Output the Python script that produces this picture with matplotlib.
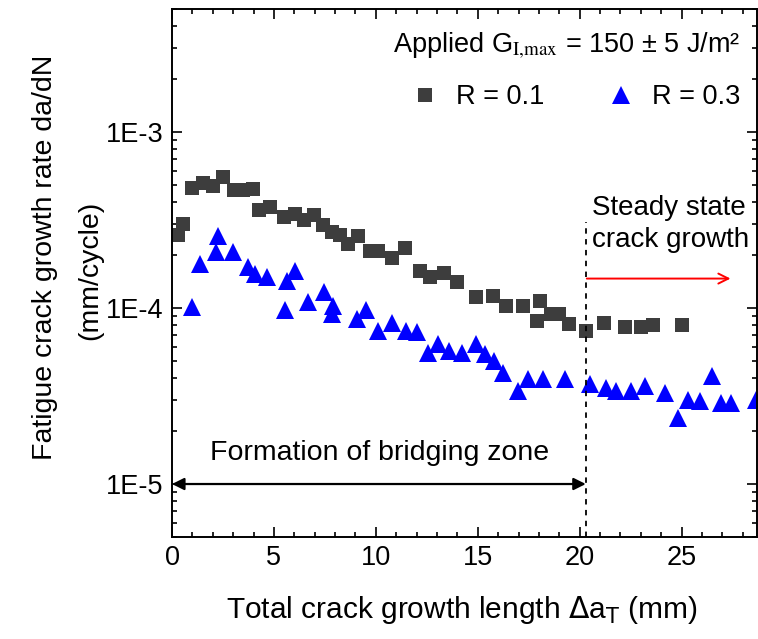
import numpy as np
import matplotlib
matplotlib.use("Agg")
import matplotlib.pyplot as plt
from matplotlib.ticker import LogLocator, MultipleLocator, FuncFormatter, NullFormatter

plt.rcParams['font.family'] = ['Liberation Sans', 'DejaVu Sans']

# R = 0.1 (squares)
x_r01 = [0.31, 0.52, 1.0, 1.5, 2.0, 2.5, 3.04, 3.5, 3.95, 4.28, 4.8, 5.49, 6.03, 6.47,
         6.96, 7.42, 7.83, 8.24, 8.64, 9.13, 9.7, 10.1, 10.77, 11.42, 12.16, 12.68,
         13.33, 13.99, 14.93, 15.75, 16.4, 17.2, 18.07, 17.9, 18.6, 19.0, 19.5, 20.3,
         21.2, 22.2, 23.0, 23.6, 25.0]
y_r01 = [2.59e-4, 2.99e-4, 4.79e-4, 5.11e-4, 4.93e-4, 5.53e-4, 4.68e-4, 4.68e-4, 4.72e-4,
         3.6e-4, 3.73e-4, 3.3e-4, 3.44e-4, 3.18e-4, 3.37e-4, 2.95e-4, 2.7e-4, 2.59e-4,
         2.3e-4, 2.55e-4, 2.12e-4, 2.12e-4, 1.93e-4, 2.2e-4, 1.62e-4, 1.5e-4, 1.58e-4,
         1.4e-4, 1.15e-4, 1.17e-4, 1.03e-4, 1.03e-4, 1.09e-4, 8.46e-5, 9.24e-5, 9.24e-5,
         8.1e-5, 7.42e-5, 8.27e-5, 7.85e-5, 7.85e-5, 8.0e-5, 8.0e-5]

# R = 0.3 (triangles)
x_r03 = [1.0, 1.37, 2.27, 2.16, 3.0, 3.74, 4.07, 4.64, 5.62, 6.03, 5.54, 6.68, 7.44, 7.9,
         7.87, 9.08, 9.5, 10.1, 10.77, 11.5, 12.0, 12.57, 13.06, 13.6, 14.25, 14.9, 15.34,
         15.8, 16.24, 16.99, 17.47, 18.2, 19.3, 20.5, 21.3, 21.8, 22.5, 23.2, 24.2, 24.8,
         25.3, 25.9, 26.5, 26.95, 27.4, 28.66]
y_r03 = [1.01e-4, 1.78e-4, 2.55e-4, 2.08e-4, 2.08e-4, 1.71e-4, 1.56e-4, 1.51e-4, 1.43e-4,
         1.63e-4, 9.75e-5, 1.08e-4, 1.23e-4, 1.03e-4, 9.2e-5, 8.65e-5, 9.75e-5, 7.4e-5,
         8.27e-5, 7.4e-5, 7.26e-5, 5.57e-5, 6.22e-5, 5.7e-5, 5.57e-5, 6.22e-5, 5.46e-5,
         5.0e-5, 4.29e-5, 3.37e-5, 3.93e-5, 3.93e-5, 3.93e-5, 3.68e-5, 3.52e-5, 3.37e-5,
         3.37e-5, 3.6e-5, 3.3e-5, 2.37e-5, 3.02e-5, 2.95e-5, 4.1e-5, 2.89e-5, 2.89e-5,
         3.02e-5]

x_bridge = 20.3        # end of bridging zone formation
y_steady_arrow = 1.47e-4

fig = plt.figure(figsize=(7.58, 6.39), dpi=100)
ax = fig.add_axes([172 / 758, 1 - 537 / 639, 585 / 758, 528 / 639])

sq, = ax.plot(x_r01, y_r01, 's', color='#3d3d3d', ms=9.5, mew=0, label='R = 0.1')
tri, = ax.plot(x_r03, y_r03, '^', color='#0000ff', ms=12.5, mew=0, label='R = 0.3')

ax.set_yscale('log')
ax.set_xlim(0, 28.7)
ax.set_ylim(5e-6, 5e-3)

ax.xaxis.set_major_locator(MultipleLocator(5))
ax.xaxis.set_minor_locator(MultipleLocator(1))
ax.yaxis.set_major_locator(LogLocator(base=10))
ax.yaxis.set_minor_locator(LogLocator(base=10, subs=np.arange(2, 10)))
ax.yaxis.set_major_formatter(FuncFormatter(lambda v, p: '1E%d' % round(np.log10(v))))
ax.yaxis.set_minor_formatter(NullFormatter())
ax.tick_params(which='both', direction='in', top=True, right=True, width=1.2)
ax.tick_params(which='major', length=7, labelsize=19.5, pad=6)
ax.tick_params(which='minor', length=3.5)
for s in ax.spines.values():
    s.set_linewidth(1.4)

# dashed divider + arrows
ax.vlines(x_bridge, 5e-6, 3.1e-4, colors='black', linestyles=(0, (3, 3)), lw=1.3)
ax.annotate('', xy=(0, 1e-5), xytext=(x_bridge, 1e-5),
            arrowprops=dict(arrowstyle='<|-|>', color='black', lw=1.6,
                            mutation_scale=18, shrinkA=0, shrinkB=0))
ax.annotate('', xy=(27.4, y_steady_arrow), xytext=(x_bridge + 0.05, y_steady_arrow),
            arrowprops=dict(arrowstyle='->', color='#ff0000', lw=1.4,
                            mutation_scale=18, shrinkA=0, shrinkB=0))

ax.text(10.2, 1.5e-5, 'Formation of bridging zone', fontsize=20.5, ha='center', va='center')
ax.text(20.6, 3.0e-4, 'Steady state\ncrack growth', fontsize=20, ha='left', va='center',
        linespacing=1.3)

# legend: title as text, entries as legend row
t = ax.text(0.674, 0.93, 'Applied G$_{\\mathrm{I{,}max}}$ = 150 ± 5 J/m²', fontsize=19.5,
            ha='center', va='center', transform=ax.transAxes)
t.set_math_fontfamily('stix')
ax.legend(handles=[sq, tri], ncol=2, frameon=False, fontsize=19.5,
          loc='center', bbox_to_anchor=(0.688, 0.833), numpoints=1,
          handlelength=1.2, handletextpad=0.55, columnspacing=2.2,
          borderpad=0, borderaxespad=0)

fig.text(45 / 758, 1 - 257 / 639, 'Fatigue crack growth rate da/dN', rotation=90,
         fontsize=20.5, ha='center', va='center')
fig.text(90 / 758, 1 - 270 / 639, '(mm/cycle)', rotation=90,
         fontsize=20.5, ha='center', va='center')
fig.text(462 / 758, 1 - 610 / 639, 'Total crack growth length $\\Delta$a$_{\\mathrm{T}}$ (mm)',
         fontsize=21.5, ha='center', va='center')

fig.savefig('out.png', dpi=100)
